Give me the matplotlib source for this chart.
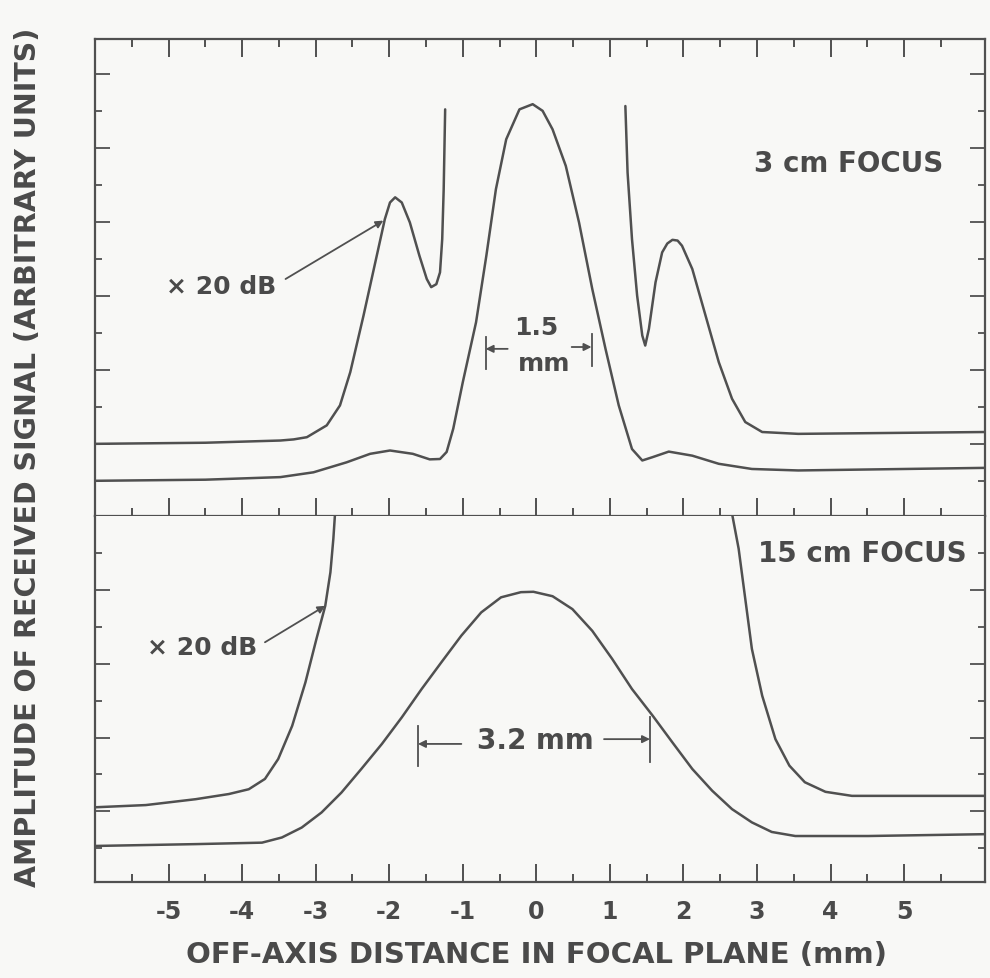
import matplotlib
matplotlib.use("Agg")
import matplotlib.pyplot as plt

plt.rcParams["font.family"] = ["DejaVu Sans"]
plt.rcParams["font.weight"] = "bold"

INK = "#505050"
TXT = "#4a4a4a"
BG = "#f8f8f6"

# ---- 3 cm focus (upper panel) ----
top_main_x = [-6.0, -4.5, -3.48, -3.03, -2.58, -2.26, -1.99, -1.68, -1.45, -1.31, -1.22,
              -1.13, -1.0, -0.82, -0.68, -0.55, -0.41, -0.23, -0.05, 0.085, 0.22, 0.40,
              0.58, 0.76, 0.94, 1.12, 1.30, 1.44, 1.58, 1.80, 2.12, 2.48, 2.93, 3.56, 6.1]
top_main_y = [0.0, 0.03, 0.10, 0.23, 0.50, 0.73, 0.82, 0.73, 0.58, 0.59, 0.78,
              1.41, 2.67, 4.29, 6.09, 7.89, 9.24, 10.05, 10.19, 10.01, 9.51, 8.52,
              6.99, 5.19, 3.57, 2.04, 0.86, 0.55, 0.64, 0.79, 0.68, 0.46, 0.32, 0.28, 0.35]

top_x20_left_x = [-6.0, -4.5, -3.48, -3.3, -3.12, -2.85, -2.67, -2.53, -2.35, -2.17, -2.06,
                  -1.99, -1.92, -1.83, -1.72, -1.59, -1.49, -1.43, -1.36, -1.31, -1.28,
                  -1.26, -1.24]
top_x20_left_y = [1.0, 1.03, 1.09, 1.12, 1.18, 1.50, 2.04, 2.94, 4.47, 6.09, 7.08,
                  7.53, 7.67, 7.53, 6.99, 6.09, 5.46, 5.24, 5.32, 5.64, 6.54,
                  7.89, 10.05]

top_x20_right_x = [1.21, 1.24, 1.30, 1.37, 1.44, 1.48, 1.53, 1.62, 1.71, 1.78, 1.85, 1.92,
                   1.98, 2.12, 2.30, 2.48, 2.66, 2.84, 3.07, 3.56, 6.1]
top_x20_right_y = [10.14, 8.34, 6.54, 5.01, 3.93, 3.66, 4.11, 5.37, 6.18, 6.42, 6.52, 6.50,
                   6.36, 5.73, 4.47, 3.21, 2.22, 1.59, 1.32, 1.27, 1.32]

# ---- 15 cm focus (lower panel) ----
bot_main_x = [-6.0, -4.63, -3.73, -3.46, -3.19, -2.92, -2.65, -2.38, -2.10, -1.83, -1.56,
              -1.29, -1.02, -0.75, -0.48, -0.21, -0.04, 0.22, 0.49, 0.76, 1.03, 1.30,
              1.58, 1.85, 2.12, 2.39, 2.66, 2.93, 3.20, 3.52, 4.51, 6.1]
bot_main_y = [0.06, 0.11, 0.15, 0.29, 0.56, 0.97, 1.51, 2.15, 2.83, 3.55, 4.32,
              5.05, 5.77, 6.40, 6.81, 6.95, 6.96, 6.84, 6.49, 5.90, 5.14, 4.32,
              3.60, 2.87, 2.15, 1.56, 1.06, 0.70, 0.44, 0.33, 0.33, 0.38]

bot_x20_left_x = [-6.0, -5.31, -4.63, -4.18, -3.91, -3.69, -3.51, -3.32, -3.14, -2.99,
                  -2.87, -2.80, -2.76, -2.73]
bot_x20_left_y = [1.11, 1.17, 1.33, 1.47, 1.60, 1.88, 2.42, 3.32, 4.50, 5.68,
                  6.58, 7.49, 8.40, 9.3]

bot_x20_right_x = [2.63, 2.75, 2.84, 2.93, 3.07, 3.25, 3.44, 3.65, 3.93, 4.29, 6.1]
bot_x20_right_y = [9.4, 8.13, 6.77, 5.41, 4.14, 2.96, 2.24, 1.79, 1.53, 1.42, 1.42]

x_ticks = [-5, -4, -3, -2, -1, 0, 1, 2, 3, 4, 5]
x_tick_labels = ["-5", "-4", "-3", "-2", "-1", "0", "1", "2", "3", "4", "5"]
XLIM = (-6.0, 6.1)

fig = plt.figure(figsize=(9.9, 9.79), dpi=100, facecolor=BG)
ax1 = fig.add_axes([0.096, 0.472, 0.899, 0.487])
ax2 = fig.add_axes([0.096, 0.098, 0.899, 0.374])

for ax in (ax1, ax2):
    ax.set_facecolor(BG)
    ax.set_xlim(*XLIM)
    ax.set_xticks(x_ticks)
    ax.set_xticks([v + 0.5 for v in range(-6, 6)], minor=True)
    for s in ax.spines.values():
        s.set_color(INK)
        s.set_linewidth(1.6)
    ax.tick_params(axis="x", which="major", direction="in", length=13, width=1.4, color=INK)
    ax.tick_params(axis="x", which="minor", direction="in", length=6, width=1.4, color=INK)
    ax.tick_params(axis="y", which="major", direction="in", length=11, width=1.3,
                   color=INK, left=True, right=True, labelleft=False)
    ax.tick_params(axis="y", which="minor", direction="in", length=5, width=1.3,
                   color=INK, left=True, right=True)

ax1.set_ylim(-0.95, 11.95)
ax1.set_yticks([1, 3, 5, 7, 9, 11])
ax1.set_yticks([0, 2, 4, 6, 8, 10], minor=True)
ax1.tick_params(axis="x", which="both", top=True, bottom=True, labelbottom=False)

ax2.set_ylim(-0.92, 9.02)
ax2.set_yticks([1, 3, 5, 7])
ax2.set_yticks([0, 2, 4, 6, 8], minor=True)
ax2.tick_params(axis="x", which="both", top=False, bottom=True)
ax2.set_xticklabels(x_tick_labels)
ax2.tick_params(axis="x", which="major", labelsize=17, labelcolor=TXT, pad=12)
ax2.spines["top"].set_visible(False)

line = dict(color=INK, lw=1.8, solid_joinstyle="round", solid_capstyle="round")
ax1.plot(top_main_x, top_main_y, **line)
ax1.plot(top_x20_left_x, top_x20_left_y, **line)
ax1.plot(top_x20_right_x, top_x20_right_y, **line)
ax2.plot(bot_main_x, bot_main_y, **line)
ax2.plot(bot_x20_left_x, bot_x20_left_y, **line)
ax2.plot(bot_x20_right_x, bot_x20_right_y, **line)

tk = dict(color=TXT, fontweight="bold", ha="center", va="center")
arr = dict(arrowstyle="-|>", color=INK, lw=1.3, mutation_scale=11, shrinkA=0, shrinkB=0)

# upper panel labels
ax1.text(4.24, 8.6, "3 cm FOCUS", fontsize=20, **tk)
ax1.text(-4.29, 5.27, "\u00d7 20 dB", fontsize=18, **tk)
ax1.annotate("", xy=(-2.08, 7.04), xytext=(-3.41, 5.46), arrowprops=arr)
ax1.text(0.0, 4.16, "1.5", fontsize=18, **tk)
ax1.text(0.11, 3.19, "mm", fontsize=18, **tk)
ax1.plot([-0.69, -0.69], [3.03, 3.89], color=INK, lw=1.3)
ax1.plot([0.75, 0.75], [3.11, 3.97], color=INK, lw=1.3)
ax1.annotate("", xy=(-0.69, 3.57), xytext=(-0.39, 3.57), arrowprops=arr)
ax1.annotate("", xy=(0.75, 3.62), xytext=(0.48, 3.62), arrowprops=arr)

# lower panel labels
ax2.text(4.43, 8.0, "15 cm FOCUS", fontsize=20, **tk)
ax2.text(-4.54, 5.46, "\u00d7 20 dB", fontsize=18, **tk)
ax2.annotate("", xy=(-2.87, 6.58), xytext=(-3.69, 5.59), arrowprops=arr)
ax2.text(-0.01, 2.93, "3.2 mm", fontsize=20, **tk)
ax2.plot([-1.61, -1.61], [2.24, 3.32], color=INK, lw=1.3)
ax2.plot([1.545, 1.545], [2.34, 3.56], color=INK, lw=1.3)
ax2.annotate("", xy=(-1.61, 2.83), xytext=(-1.02, 2.83), arrowprops=arr)
ax2.annotate("", xy=(1.545, 2.96), xytext=(0.92, 2.96), arrowprops=arr)

fig.text(0.542, 0.0245, "OFF-AXIS DISTANCE IN FOCAL PLANE (mm)", fontsize=21, **tk)
fig.text(0.028, 0.533, "AMPLITUDE OF RECEIVED SIGNAL (ARBITRARY UNITS)", fontsize=20.5,
         rotation=90, **tk)

fig.savefig("out.png", dpi=100, facecolor=BG)
